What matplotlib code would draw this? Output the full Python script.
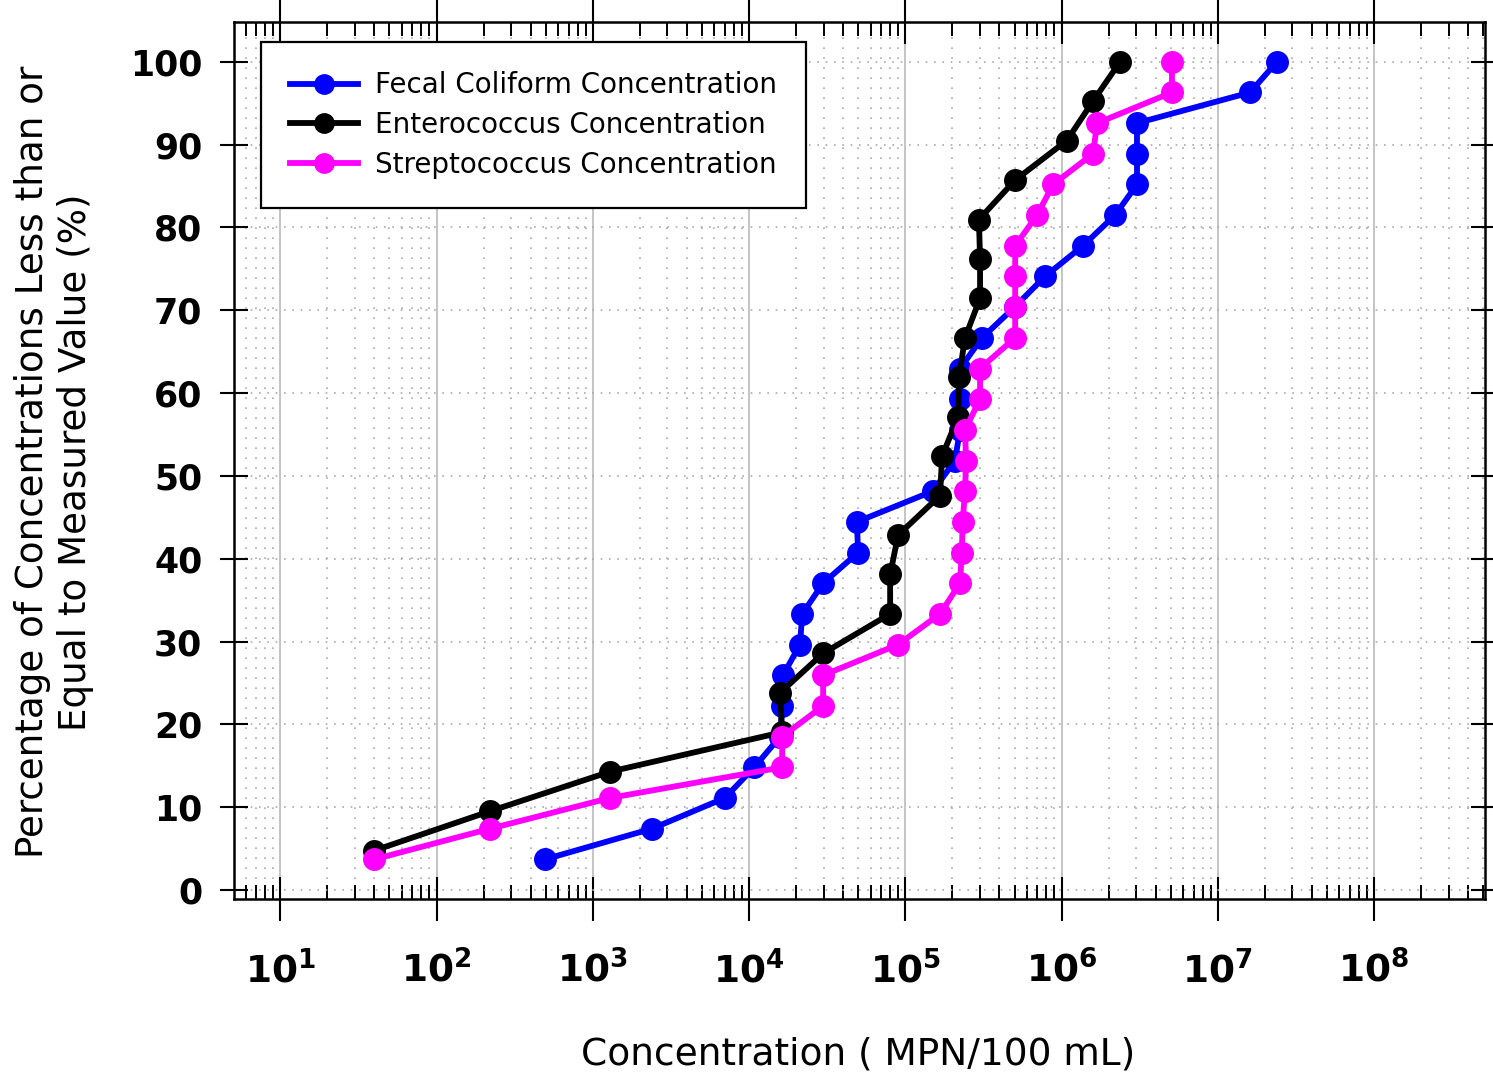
import numpy as np
import matplotlib
matplotlib.use("Agg")
import matplotlib.pyplot as plt
from matplotlib.ticker import LogLocator, FuncFormatter, NullFormatter

# Cumulative percentages (ranked position / sample count)
pct_27 = [100.0 * i / 27 for i in range(1, 28)]
pct_21 = [100.0 * i / 21 for i in range(1, 22)]

# Sorted concentrations, MPN/100 mL
fecal_coliform = [495, 2400, 7000, 10800, 15800, 16300, 16500, 21200, 21900,
                  29800, 49900, 49000, 150000, 208000, 224000, 224000, 224000,
                  310000, 500000, 783000, 1.37e6, 2.2e6, 3.04e6, 3.04e6,
                  3.04e6, 1.61e7, 2.39e7]
enterococcus = [40, 221, 1290, 16300, 15800, 29800, 80000, 80000, 90000,
                167000, 172000, 218000, 221000, 241000, 301000, 301000,
                296000, 505000, 1.08e6, 1.59e6, 2.37e6]
streptococcus = [40, 221, 1290, 16300, 16300, 29800, 29800, 90000, 167000,
                 224000, 230000, 233000, 241000, 245000, 241000, 301000,
                 301000, 505000, 505000, 505000, 505000, 697000, 883000,
                 1.59e6, 1.69e6, 5.09e6, 5.09e6]

series_labels = ["Fecal Coliform Concentration",
                 "Enterococcus Concentration",
                 "Streptococcus Concentration"]
series_colors = ["#0000ff", "#000000", "#ff00ff"]

x_tick_exponents = [1, 2, 3, 4, 5, 6, 7, 8]
y_ticks = [0, 10, 20, 30, 40, 50, 60, 70, 80, 90, 100]

fig = plt.figure(figsize=(14.93, 10.78), dpi=100)
W, H = 1493, 1078
ax = fig.add_axes([234 / W, 1 - 899 / H, (1485 - 234) / W, (899 - 22) / H])

for xs, ys, lab, col, z in [
    (fecal_coliform, pct_27, series_labels[0], series_colors[0], 3),
    (enterococcus, pct_21, series_labels[1], series_colors[1], 4),
    (streptococcus, pct_27, series_labels[2], series_colors[2], 5),
]:
    ax.plot(xs, ys, color=col, lw=4.2, marker="o", ms=15.5,
            label=lab, zorder=z)

ax.set_xscale("log")
ax.set_xlim(10 ** 0.704, 10 ** 8.71)
ax.set_ylim(-1.09, 104.8)

ax.set_xticks([10.0 ** e for e in x_tick_exponents])
ax.xaxis.set_major_formatter(FuncFormatter(
    lambda v, p: r"$\mathbf{10^{%d}}$" % int(round(np.log10(v)))))
ax.xaxis.set_minor_locator(LogLocator(base=10, subs=np.arange(2, 10), numticks=20))
ax.xaxis.set_minor_formatter(NullFormatter())
ax.set_yticks(y_ticks)

for sp in ax.spines.values():
    sp.set_linewidth(1.8)

ax.tick_params(axis="x", which="major", direction="inout", length=31, width=1.5,
               top=True, bottom=True, labelsize=27, pad=22)
ax.tick_params(axis="x", which="minor", direction="in", length=10, width=1.4,
               top=True, bottom=True)
ax.tick_params(axis="y", which="major", direction="inout", length=19.5, width=1.5,
               left=True, right=True, labelsize=25, pad=13)
for lbl in ax.get_yticklabels():
    lbl.set_fontweight("bold")

ax.set_axisbelow(True)
ax.grid(which="major", axis="x", color="#c4c4c4", lw=1.4, ls="-")
ax.grid(which="minor", axis="x", color="#aaaaaa", lw=1.2, ls=(0, (1, 5)))
ax.grid(which="major", axis="y", color="#aaaaaa", lw=1.2, ls=(0, (1, 4)))

leg = ax.legend(loc="upper left", bbox_to_anchor=(0.0216, 0.977), fontsize=20,
                frameon=True, fancybox=False, edgecolor="black", framealpha=1,
                handlelength=2.45, handletextpad=0.6, labelspacing=0.42,
                borderpad=1.05, borderaxespad=0, markerscale=0.9)
leg.get_frame().set_linewidth(1.6)

fig.text(858 / W, 1 - 1055 / H, "Concentration ( MPN/100 mL)", fontsize=27,
         ha="center", va="center")
fig.text(54 / W, 1 - 462 / H,
         "Percentage of Concentrations Less than or\nEqual to Measured Value (%)",
         fontsize=26.8, rotation=90, ha="center", va="center",
         multialignment="center", linespacing=1.2)

fig.savefig("out.png", dpi=100)
